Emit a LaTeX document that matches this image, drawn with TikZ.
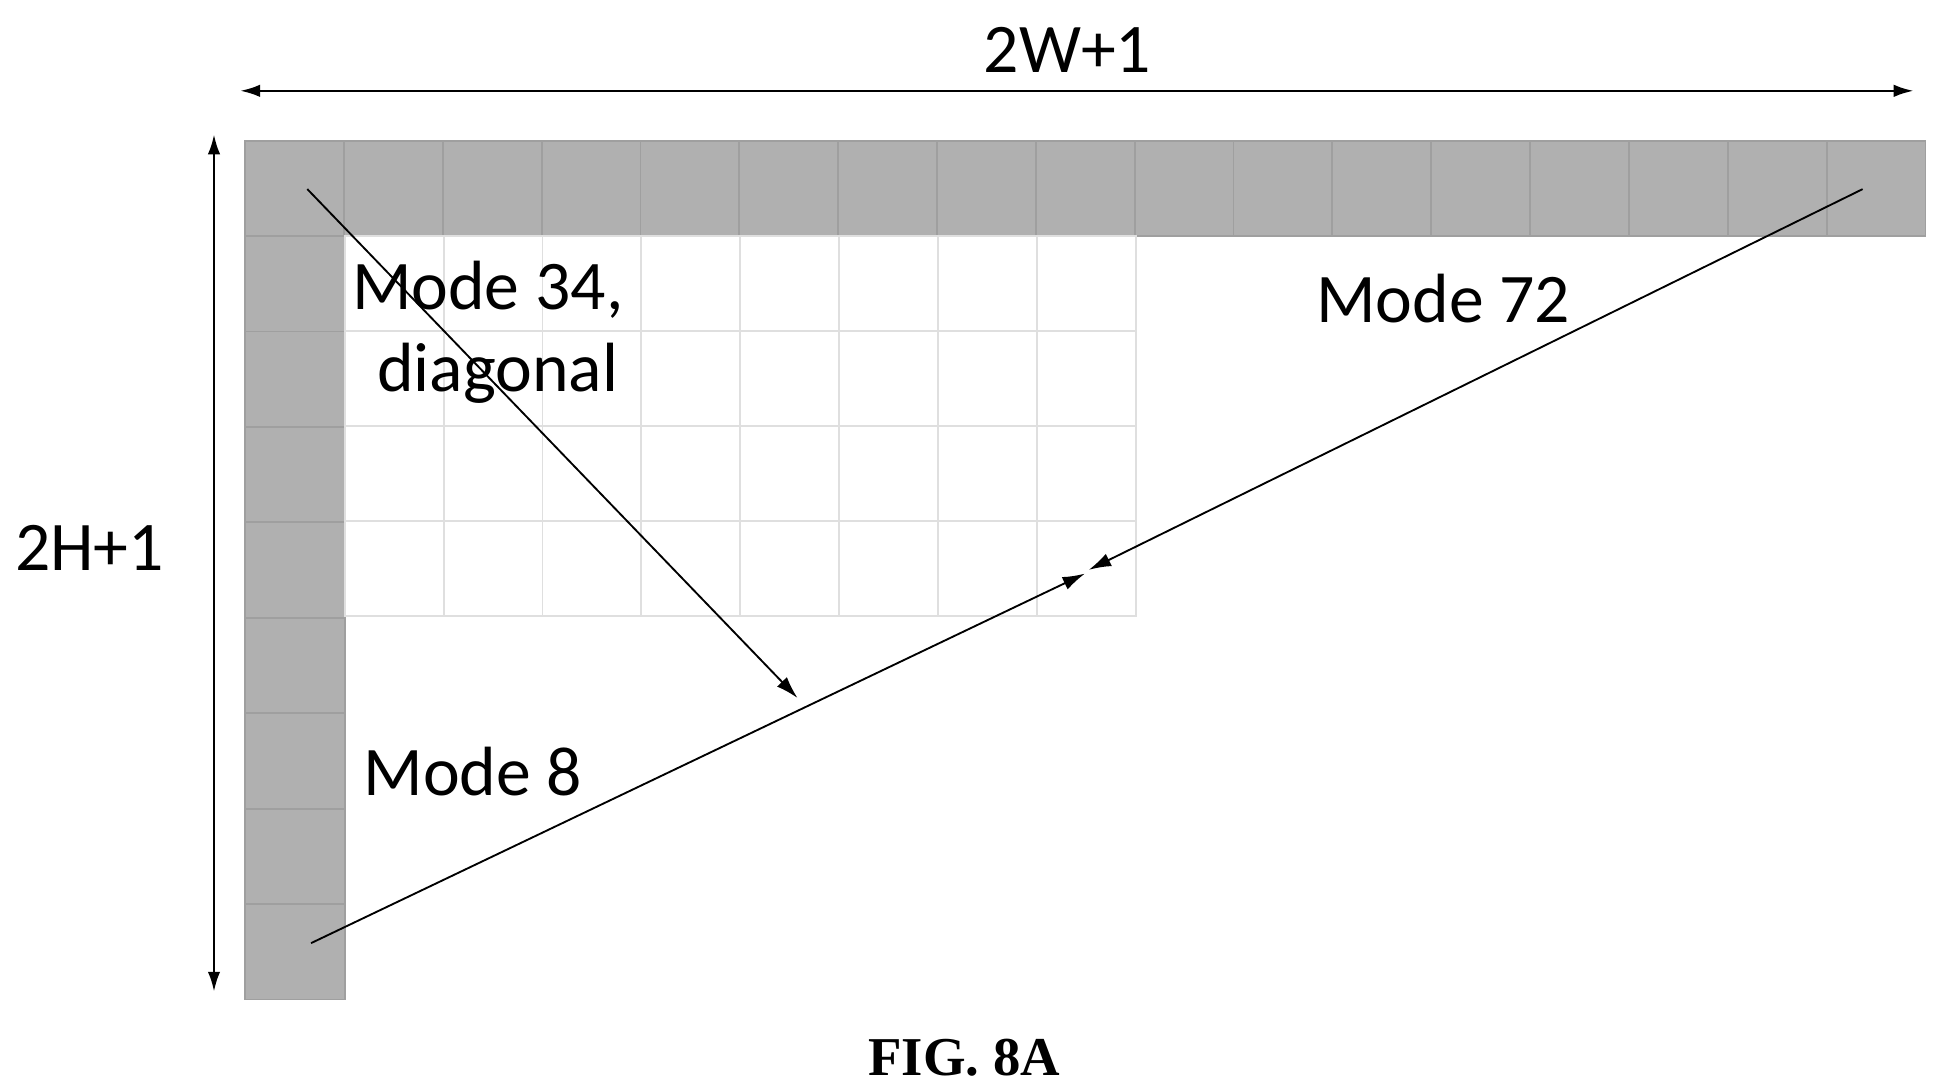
\documentclass[tikz,border=0pt]{standalone}
\usepackage{fontspec}
\setmainfont{Carlito}
\newfontfamily\figfont{Liberation Serif}
\usetikzlibrary{arrows.meta}
\tikzset{
  bar/.style={fill=gray!62,draw=gray!75,line width=1.5pt},
  cell/.style={draw=gray!25,line width=1.5pt},
  dim/.style={<->,>={Latex[length=16pt,width=10pt]},line width=2pt},
  mode/.style={->,>={Latex[length=18pt,width=11pt]},line width=1.5pt},
  lbl/.style={font=\fontsize{56}{60}\selectfont,inner sep=0pt}
}
\begin{document}
\begin{tikzpicture}[x=1pt,y=-1pt]
\useasboundingbox (0,0) rectangle (1560,877);
% reference samples
\foreach \i in {0,...,16}
  \draw[bar] ({197+\i*79.44},113) rectangle ({197+(\i+1)*79.44},190);
\foreach \j in {1,...,8}
  \draw[bar] (197,{113+\j*76.7}) rectangle (277,{113+(\j+1)*76.7});
% current block
\foreach \i in {0,...,7}
  \foreach \j in {0,...,3}
    \draw[cell] ({277+\i*79.5},{190+\j*76.25}) rectangle ({277+(\i+1)*79.5},{190+(\j+1)*76.25});
% dimensions
\coordinate (wl) at (193,73);
\coordinate (wr) at (1538,73);
\coordinate (ht) at (172,108);
\coordinate (hb) at (172,797);
\draw[dim] (wl) -- (wr);
\draw[dim] (ht) -- (hb);
\node[lbl] (wlab) at (858,40) {2W+1};
\node[lbl] (hlab) at (72,440) {2H+1};
% modes
\coordinate (m34s) at (247,152);
\coordinate (m34e) at (641,561);
\coordinate (m8s) at (250,758);
\coordinate (m8e) at (872,461);
\coordinate (m72s) at (1497,152);
\coordinate (m72e) at (875,458);
\draw[mode] (m34s) -- (m34e);
\draw[mode] (m8s) -- (m8e);
\draw[mode] (m72s) -- (m72e);
\node[lbl] (l34) at (392,233) {Mode 34,};
\node[lbl] (ldg) at (400,300) {diagonal};
\node[lbl] (l72) at (1160,240) {Mode 72};
\node[lbl] (l8) at (380,620) {Mode 8};
\node[font=\figfont\bfseries\fontsize{44}{48}\selectfont,inner sep=0pt] (fig) at (775,850) {FIG. 8A};
\end{tikzpicture}
\end{document}
